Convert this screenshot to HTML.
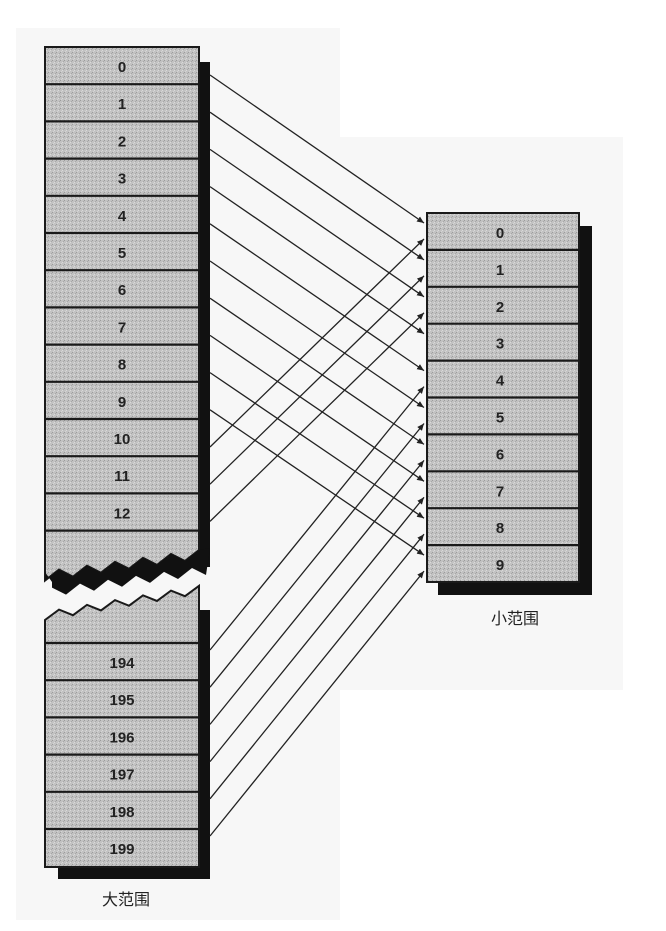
<!DOCTYPE html>
<html><head><meta charset="utf-8"><style>
html,body{margin:0;padding:0;background:#fff;}
svg{display:block}
text{font-family:"Liberation Sans","Noto Sans CJK SC",sans-serif;}
</style></head><body>
<svg id="chart" width="666" height="931" viewBox="0 0 666 931" xmlns="http://www.w3.org/2000/svg">
<defs>
<pattern id="stip" width="4" height="4" patternUnits="userSpaceOnUse">
<rect width="4" height="4" fill="#c2c2c2"/>
<rect x="0" y="0" width="1" height="1" fill="#9c9c9c"/>
<rect x="2" y="2" width="1" height="1" fill="#dadada"/>
<rect x="3" y="1" width="1" height="1" fill="#a8a8a8"/>
<rect x="1" y="3" width="1" height="1" fill="#d4d4d4"/>
</pattern>
<marker id="arr" markerWidth="8" markerHeight="8" refX="7" refY="4" orient="auto" markerUnits="userSpaceOnUse">
<path d="M0,1 L7,4 L0,7 Z" fill="#222"/>
</marker>
</defs>
<rect x="16" y="28" width="324" height="892" fill="#f7f7f7"/>
<rect x="340" y="137" width="283" height="553" fill="#f7f7f7"/>
<g id="g"></g>
</svg>
<script>
const bigTopLabels=["0","1","2","3","4","5","6","7","8","9","10","11","12"];
const bigBottomLabels=["194","195","196","197","198","199"];
const smallLabels=["0","1","2","3","4","5","6","7","8","9"];
const bigTopValues=[0,1,2,3,4,5,6,7,8,9,10,11,12];
const bigBottomValues=[194,195,196,197,198,199];
const modulus=10;

const NS="http://www.w3.org/2000/svg";
const g=document.getElementById('g');
function el(t,a,p){const e=document.createElementNS(NS,t);for(const k in a)e.setAttribute(k,a[k]);(p||g).appendChild(e);return e;}
const RH=37.2;
const L={x:45,w:154,top:47,botTop:643};
const R={x:427,w:152,top:213};
function bigTopY(i){return L.top+i*RH;}
function bigBotY(i){return L.botTop+i*RH;}
function smallY(i){return R.top+i*(582-213)/10;}

let e;
e=el('rect',{x:199,y:62,width:11,height:505,fill:'#111'});

let pts=[[45,47],[199,47],[199,548]];
let gray=[];
for(let k=0;k<=11;k++){const x=199-k*14;const base=550+(199-x)*0.14;gray.push([x,base+(k%2?9:0)]);}
pts=pts.concat(gray);pts.push([45,572]);
e=el('polygon',{points:pts.map(p=>p.join(',')).join(' '),fill:'url(#stip)',stroke:'#1a1a1a','stroke-width':2});

let band=[[210,548]].concat(gray.map(p=>[p[0],p[1]])).concat([[45,572]]);
let low=[];for(let k=11;k>=0;k--){const x=199-k*14+7;const base=567+(199-x)*0.14;low.push([Math.min(x,210),base+(k%2?0:9)]);}
band=band.concat([[52,582]]).concat(low);
e=el('polygon',{points:band.map(p=>p.join(',')).join(' '),fill:'#111'});

e=el('rect',{x:199,y:610,width:11,height:269,fill:'#111'});

e=el('rect',{x:58,y:860,width:152,height:19,fill:'#111'});

let lp=[[45,867],[45,620]];
for(let k=0;k<=11;k++){const x=45+k*14;const base=620-(x-45)*0.17;lp.push([x,base-(k%2?8:0)]);}
lp.push([199,592],[199,867]);
e=el('polygon',{points:lp.map(p=>p.join(',')).join(' '),fill:'url(#stip)',stroke:'#1a1a1a','stroke-width':2});


bigTopLabels.forEach((t,i)=>{
  const y=bigTopY(i);
  const ln=el('line',{x1:45,x2:199,y1:y+RH,y2:y+RH,stroke:'#1a1a1a','stroke-width':2.2});
  
  const tx=el('text',{x:122,y:y+25,'text-anchor':'middle','font-size':15,'font-weight':'bold',fill:'#222'});
  tx.textContent=t;
  
});
bigBottomLabels.forEach((t,i)=>{
  const y=bigBotY(i);
  const ln=el('line',{x1:45,x2:199,y1:y,y2:y,stroke:'#1a1a1a','stroke-width':2.2});
  
  const tx=el('text',{x:122,y:y+25,'text-anchor':'middle','font-size':15,'font-weight':'bold',fill:'#222'});
  tx.textContent=t;
  
});

e=el('rect',{x:579,y:226,width:13,height:369,fill:'#111'});

e=el('rect',{x:438,y:582,width:154,height:13,fill:'#111'});

e=el('rect',{x:427,y:213,width:152,height:369,fill:'url(#stip)',stroke:'#1a1a1a','stroke-width':2});

smallLabels.forEach((t,i)=>{
  const y=smallY(i);
  if(i>0){const ln=el('line',{x1:427,x2:579,y1:y,y2:y,stroke:'#1a1a1a','stroke-width':2.2});
  }
  const tx=el('text',{x:500,y:y+25,'text-anchor':'middle','font-size':15,'font-weight':'bold',fill:'#222'});
  tx.textContent=t;
  
});

function arrow(x1,y1,target,down){
  const ty=smallY(target)+(down?10:26);
  const a=el('line',{x1:x1,y1:y1,x2:424,y2:ty,stroke:'#222','stroke-width':1.3,'marker-end':'url(#arr)'});
  
}
bigTopValues.forEach((v,i)=>{const t=v%modulus;const y1=bigTopY(i)+28;arrow(210,y1,t,y1<smallY(t)+10);});
bigBottomValues.forEach((v,i)=>{const t=v%modulus;arrow(210,bigBotY(i)+7,t,false);});

let c=el('text',{x:126,y:905,'text-anchor':'middle','font-size':16,fill:'#222'});
c.textContent='大范围';
c=el('text',{x:515,y:624,'text-anchor':'middle','font-size':16,fill:'#222'});
c.textContent='小范围';
</script>
</body></html>
